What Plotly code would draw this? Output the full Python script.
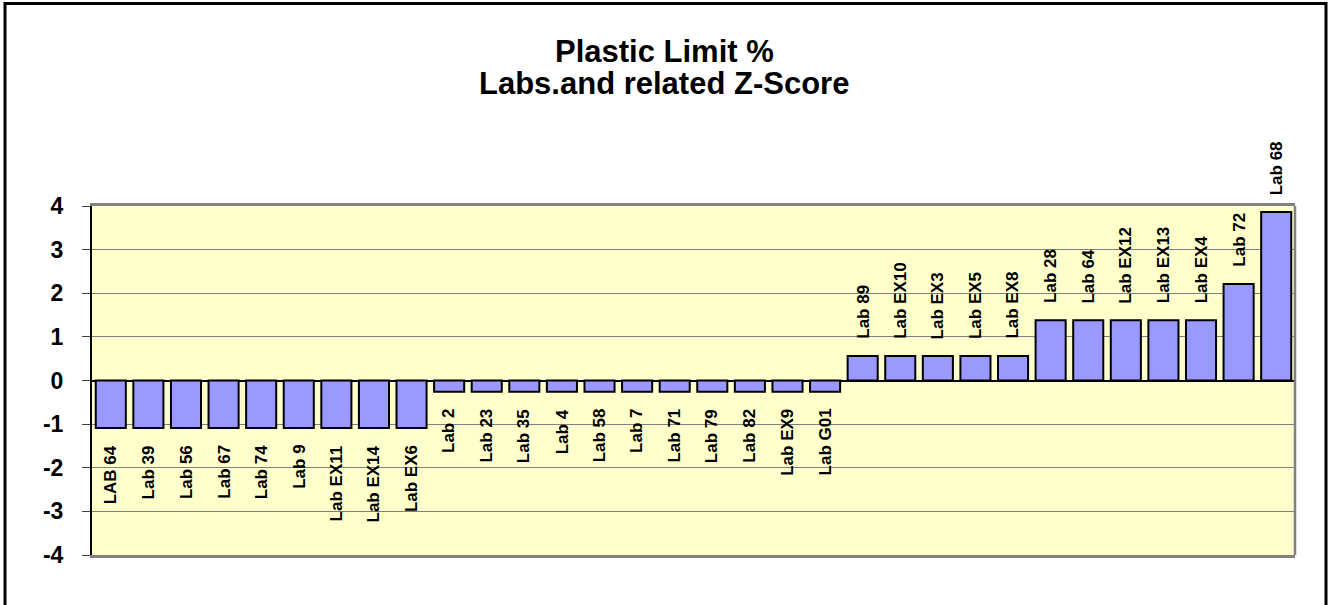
import plotly.graph_objects as go

# Lab names in plotted order
labs = ["LAB 64", "Lab 39", "Lab 56", "Lab 67", "Lab 74", "Lab 9", "Lab EX11", "Lab EX14", "Lab EX6",
        "Lab 2", "Lab 23", "Lab 35", "Lab 4", "Lab 58", "Lab 7", "Lab 71", "Lab 79", "Lab 82", "Lab EX9", "Lab G01",
        "Lab 89", "Lab EX10", "Lab EX3", "Lab EX5", "Lab EX8",
        "Lab 28", "Lab 64", "Lab EX12", "Lab EX13", "Lab EX4",
        "Lab 72", "Lab 68"]
z_scores = [-1.09] * 9 + [-0.26] * 11 + [0.56] * 5 + [1.38] * 5 + [2.21, 3.86]
y_ticks = [-4, -3, -2, -1, 0, 1, 2, 3, 4]
y_tick_labels = ["-4", "-3", "-2", "-1", "0", "1", "2", "3", "4"]
title_lines = ["Plastic Limit %", "Labs.and related Z-Score"]

FONT = "Liberation Sans, Arial, sans-serif"

# plot area in pixels: x 92..1295, y 206..555
PLOT_L, PLOT_R, PLOT_T, PLOT_B = 92, 1295, 206, 555


def px_x(px):
    return (px - PLOT_L) / (PLOT_R - PLOT_L)


def px_y(py):
    return (PLOT_B - py) / (PLOT_B - PLOT_T)


fig = go.Figure(go.Bar(
    x=labs,
    y=z_scores,
    marker=dict(color="#9999FF", line=dict(color="black", width=2)),
    hoverinfo="x+y",
))

# rotated lab names just beyond the end of each bar
for lab, z in zip(labs, z_scores):
    fig.add_annotation(
        x=lab, y=z, text=lab, textangle=-90, showarrow=False,
        yanchor="bottom" if z > 0 else "top",
        yshift=15 if z > 0 else -15,
        font=dict(family=FONT, size=17, color="black", weight="bold"),
    )

# two-line title, placed by hand to get the tighter line spacing
for line, py in zip(title_lines, [51, 83]):
    fig.add_annotation(
        xref="paper", yref="paper", x=px_x(664), y=px_y(py), text=line,
        showarrow=False, xanchor="center", yanchor="middle",
        font=dict(family=FONT, size=31, color="black", weight="bold"),
    )

# plot frame: gray on right, outer black border round the whole chart
fig.add_shape(type="line", xref="paper", yref="paper", x0=1, x1=1, y0=0, y1=1,
              line=dict(color="#808080", width=2.5))
fig.add_shape(type="rect", xref="paper", yref="paper",
              x0=px_x(5), x1=px_x(1326), y0=px_y(640), y1=px_y(3.5),
              line=dict(color="black", width=3))

fig.update_layout(
    width=1329, height=605,
    margin=dict(l=PLOT_L, r=1329 - PLOT_R, t=PLOT_T, b=605 - PLOT_B),
    paper_bgcolor="white",
    plot_bgcolor="#FFFFCC",
    bargap=0.2,
    showlegend=False,
    xaxis=dict(showticklabels=False, ticks="", showgrid=False,
               showline=True, linecolor="#808080", linewidth=2.5, mirror=True),
    yaxis=dict(range=[-4, 4], tickvals=y_ticks, ticktext=y_tick_labels,
               ticks="outside", ticklen=8, tickcolor="#404040", ticklabelstandoff=14,
               showgrid=True, gridcolor="#808080", gridwidth=1,
               zeroline=True, zerolinecolor="black", zerolinewidth=1.5,
               showline=True, linecolor="black", linewidth=2,
               tickfont=dict(family=FONT, size=23, color="black", weight="bold")),
)

fig.write_html("out.html", config={"displayModeBar": False},
               post_script="document.body.style.margin='0';")
